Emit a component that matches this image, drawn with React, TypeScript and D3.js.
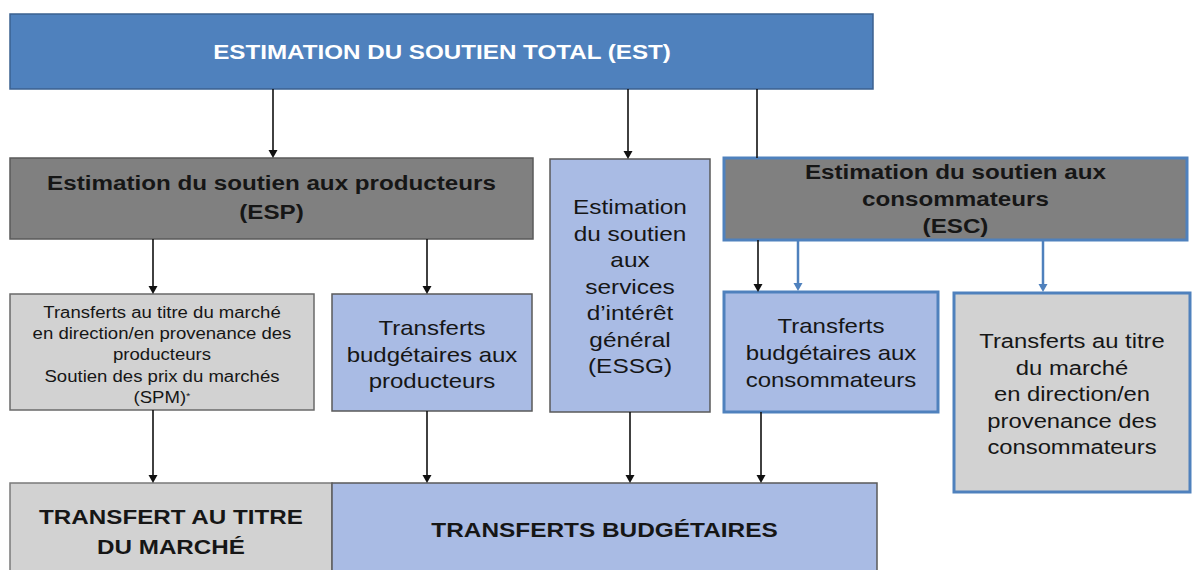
import React, { useEffect, useRef } from "react";
import * as d3 from "d3";

// ---- Text content ----
const estLabel = ["ESTIMATION DU SOUTIEN TOTAL (EST)"];
const espLabel = ["Estimation du soutien aux producteurs", "(ESP)"];
const essgLabel = ["Estimation", "du soutien", "aux", "services", "d\u2019intérêt", "général", "(ESSG)"];
const escLabel = ["Estimation du soutien aux", "consommateurs", "(ESC)"];
const spmLabel = [
  "Transferts au titre du marché",
  "en direction/en provenance des",
  "producteurs",
  "Soutien des prix du marchés",
  "(SPM)*",
];
const tbpLabel = ["Transferts", "budgétaires aux", "producteurs"];
const tbcLabel = ["Transferts", "budgétaires aux", "consommateurs"];
const tmcLabel = ["Transferts au titre", "du marché", "en direction/en", "provenance des", "consommateurs"];
const tmLabel = ["TRANSFERT AU TITRE", "DU MARCHÉ"];
const tbLabel = ["TRANSFERTS BUDGÉTAIRES"];

// ---- Styles ----
const C = {
  blue: "#4f81bd",
  blueDark: "#3b6190",
  gray: "#808080",
  grayBorder: "#5a5a5a",
  light: "#d2d2d2",
  lightBlue: "#a9bbe4",
  text: "#161616",
};

type Box = {
  id: string;
  lines: string[];
  x: number; y: number; w: number; h: number;
  fill: string; stroke: string; sw: number;
  size: number; bold: boolean; color: string;
  y0: number; lh: number; cx?: number; sx: number;
};

const layout: Box[] = [
  { id: "est", lines: estLabel, x: 10, y: 14, w: 863, h: 75, fill: C.blue, stroke: C.blueDark, sw: 1.5, size: 20, bold: true, color: "#ffffff", y0: 52, lh: 0, cx: 442, sx: 1.21 },
  { id: "esp", lines: espLabel, x: 10, y: 158, w: 523, h: 81, fill: C.gray, stroke: C.grayBorder, sw: 1.5, size: 20, bold: true, color: C.text, y0: 183, lh: 29, sx: 1.21 },
  { id: "essg", lines: essgLabel, x: 550, y: 159, w: 160, h: 253, fill: C.lightBlue, stroke: C.grayBorder, sw: 1.5, size: 20, bold: false, color: C.text, y0: 207, lh: 26.5, sx: 1.22 },
  { id: "esc", lines: escLabel, x: 724, y: 158, w: 463, h: 82, fill: C.gray, stroke: C.blue, sw: 3, size: 20, bold: true, color: C.text, y0: 172, lh: 27, sx: 1.21 },
  { id: "spm", lines: spmLabel, x: 10, y: 294, w: 304, h: 116, fill: C.light, stroke: "#6a6a6a", sw: 1.5, size: 16, bold: false, color: C.text, y0: 312, lh: 21.3, sx: 1.16 },
  { id: "tbp", lines: tbpLabel, x: 332, y: 294, w: 200, h: 117, fill: C.lightBlue, stroke: C.grayBorder, sw: 1.5, size: 20, bold: false, color: C.text, y0: 328, lh: 26.5, sx: 1.2 },
  { id: "tbc", lines: tbcLabel, x: 724, y: 292, w: 214, h: 120, fill: C.lightBlue, stroke: C.blue, sw: 3, size: 20, bold: false, color: C.text, y0: 326, lh: 27, sx: 1.2 },
  { id: "tmc", lines: tmcLabel, x: 954, y: 293, w: 236, h: 199, fill: C.light, stroke: C.blue, sw: 3, size: 20, bold: false, color: C.text, y0: 341, lh: 26.5, sx: 1.19 },
  { id: "tm", lines: tmLabel, x: 10, y: 483, w: 322, h: 95, fill: C.light, stroke: "#7a7a7a", sw: 1.5, size: 20, bold: true, color: C.text, y0: 517, lh: 30, sx: 1.21 },
  { id: "tb", lines: tbLabel, x: 332, y: 483, w: 545, h: 95, fill: C.lightBlue, stroke: C.grayBorder, sw: 1.5, size: 20, bold: true, color: C.text, y0: 530, lh: 0, sx: 1.22 },
];

type Arrow = { x: number; y1: number; y2: number; color: string; head: boolean; w: number };
const arrows: Arrow[] = [
  { x: 273, y1: 89, y2: 158, color: "#111", head: true, w: 1.6 },
  { x: 628, y1: 89, y2: 159, color: "#111", head: true, w: 1.6 },
  { x: 757, y1: 89, y2: 158, color: "#111", head: false, w: 1.6 },
  { x: 758, y1: 240, y2: 292, color: "#111", head: true, w: 1.6 },
  { x: 153, y1: 239, y2: 294, color: "#111", head: true, w: 1.6 },
  { x: 427, y1: 239, y2: 294, color: "#111", head: true, w: 1.6 },
  { x: 153, y1: 410, y2: 483, color: "#111", head: true, w: 1.6 },
  { x: 427, y1: 411, y2: 483, color: "#111", head: true, w: 1.6 },
  { x: 630, y1: 412, y2: 483, color: "#111", head: true, w: 1.6 },
  { x: 761, y1: 412, y2: 483, color: "#111", head: true, w: 1.6 },
  { x: 798, y1: 240, y2: 291, color: C.blue, head: true, w: 2.5 },
  { x: 1043, y1: 240, y2: 292, color: C.blue, head: true, w: 2.5 },
];

export default function App() {
  const ref = useRef<SVGSVGElement | null>(null);

  useEffect(() => {
    const svg = d3.select(ref.current);
    svg.selectAll("*").remove();

    svg.append("rect").attr("width", 1193).attr("height", 570).attr("fill", "#fff");

    const g = svg.append("g").attr("font-family", "'Liberation Sans', Arial, sans-serif");

    const nodes = g.selectAll("g.node").data(layout).join("g").attr("class", "node");
    nodes
      .append("rect")
      .attr("x", (d) => d.x)
      .attr("y", (d) => d.y)
      .attr("width", (d) => d.w)
      .attr("height", (d) => d.h)
      .attr("fill", (d) => d.fill)
      .attr("stroke", (d) => d.stroke)
      .attr("stroke-width", (d) => d.sw);

    nodes.each(function (d) {
      const sel = d3.select(this);
      const cx = d.cx ?? d.x + d.w / 2;
      const texts = sel
        .selectAll("text")
        .data(d.lines)
        .join("text")
        .attr("transform", (_, i) => `translate(${cx},${d.y0 + i * d.lh}) scale(${d.sx},1)`)
        .attr("dy", "0.36em")
        .attr("text-anchor", "middle")
        .attr("font-size", d.size)
        .attr("font-weight", d.bold ? 700 : 400)
        .attr("fill", d.color);
      texts.each(function (t) {
        const te = d3.select(this);
        if (t.endsWith("*")) {
          te.append("tspan").text(t.slice(0, -1));
          te.append("tspan")
            .attr("font-size", d.size * 0.6)
            .attr("baseline-shift", "40%")
            .text("*");
        } else {
          te.text(t);
        }
      });
    });

    const ag = g.selectAll("g.arrow").data(arrows).join("g").attr("class", "arrow");
    ag.append("line")
      .attr("x1", (d) => d.x)
      .attr("x2", (d) => d.x)
      .attr("y1", (d) => d.y1)
      .attr("y2", (d) => (d.head ? d.y2 - 6 : d.y2))
      .attr("stroke", (d) => d.color)
      .attr("stroke-width", (d) => d.w);
    ag.filter((d) => d.head)
      .append("path")
      .attr("d", (d) => {
        const p = d3.path();
        p.moveTo(d.x - 4.5, d.y2 - 8);
        p.lineTo(d.x + 4.5, d.y2 - 8);
        p.lineTo(d.x, d.y2);
        p.closePath();
        return p.toString();
      })
      .attr("fill", (d) => d.color);
  }, []);

  return (
    <svg
      ref={ref}
      width={1193}
      height={570}
      style={{ position: "absolute", left: 0, top: 0, display: "block" }}
    />
  );
}
